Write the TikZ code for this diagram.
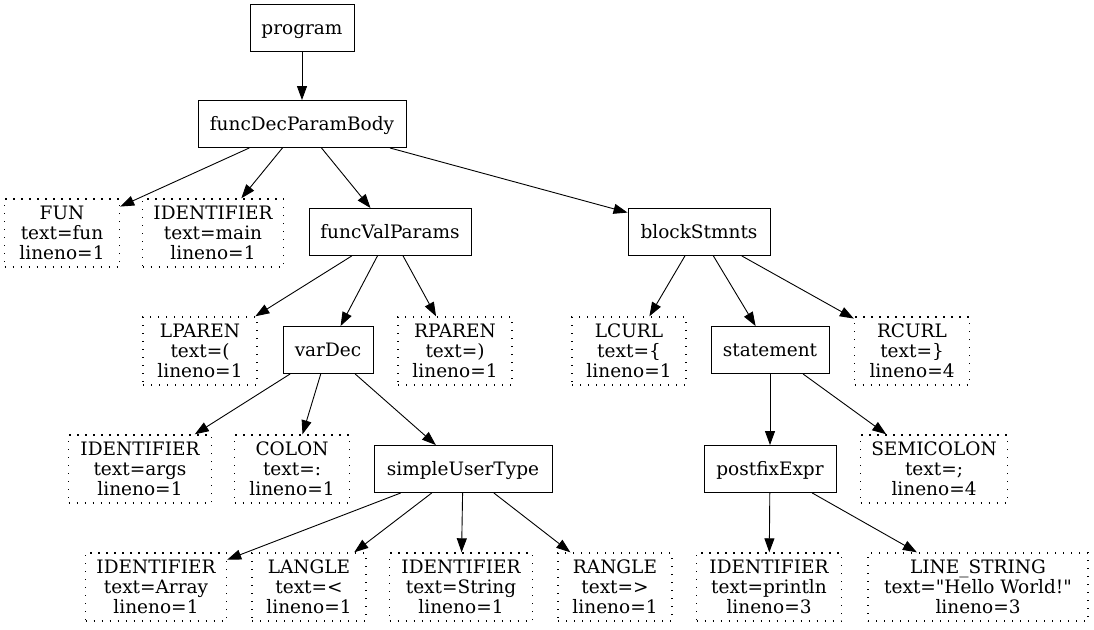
\documentclass[tikz,border=0pt]{standalone}
\usepackage{fontspec}
\setmainfont{DejaVu Serif}
\usepackage{tikz}
\usetikzlibrary{arrows.meta}

\begin{document}
\begin{tikzpicture}[x=1pt,y=-1pt,
  font=\fontsize{18.5}{20}\selectfont,
  rule/.style={draw,line width=0.9pt,inner xsep=3pt,text height=15pt,text depth=2pt,minimum width=#1,minimum height=47pt},
  tok/.style={draw,line width=1.4pt,dash pattern=on 1.3pt off 6.7pt,align=center,inner xsep=3pt,minimum width=#1,minimum height=68pt},
  edge/.style={line width=0.9pt,-{Triangle[length=14pt,width=10pt]}}]
\useasboundingbox (0,0) rectangle (1094,629);
% rule nodes
\node[rule=104pt] (program) at (302,28) {program};
\node[rule=208pt] (body) at (302,124) {funcDecParamBody};
\node[rule=162pt] (params) at (390,232) {funcValParams};
\node[rule=142pt] (block) at (699,232) {blockStmnts};
\node[rule=90pt] (vardec) at (328,350) {varDec};
\node[rule=118pt] (stmt) at (770,350) {statement};
\node[rule=178pt] (usertype) at (463,469) {simpleUserType};
\node[rule=132pt] (postfix) at (770,469) {postfixExpr};
% token nodes
\node[tok=115pt] (fun) at (62,233) {FUN\\text=fun\\lineno=1};
\node[tok=141pt] (idmain) at (213,233) {IDENTIFIER\\text=main\\lineno=1};
\node[tok=114pt] (lparen) at (200,351) {LPAREN\\text=(\\lineno=1};
\node[tok=114pt] (rparen) at (455,351) {RPAREN\\text=)\\lineno=1};
\node[tok=114pt] (lcurl) at (629,351) {LCURL\\text=\{\\lineno=1};
\node[tok=115pt] (rcurl) at (912,351) {RCURL\\text=\}\\lineno=4};
\node[tok=143pt] (idargs) at (140,469) {IDENTIFIER\\text=args\\lineno=1};
\node[tok=115pt] (colon) at (292,469) {COLON\\text=:\\lineno=1};
\node[tok=147pt] (semi) at (934,469) {SEMICOLON\\text=;\\lineno=4};
\node[tok=141pt] (idarray) at (156,587) {IDENTIFIER\\text=Array\\lineno=1};
\node[tok=114pt] (langle) at (309,587) {LANGLE\\text=<\\lineno=1};
\node[tok=143pt] (idstring) at (461,587) {IDENTIFIER\\text=String\\lineno=1};
\node[tok=114pt] (rangle) at (615,587) {RANGLE\\text=>\\lineno=1};
\node[tok=145pt] (idprint) at (769,587) {IDENTIFIER\\text=println\\lineno=3};
\node[tok=220pt] (linestr) at (978,587) {LINE\_STRING\\text=\textquotedbl Hello World!\textquotedbl\\lineno=3};
% edges
\foreach \a/\b in {program/body,body/fun,body/idmain,body/params,body/block,
  params/lparen,params/vardec,params/rparen,block/lcurl,block/stmt,block/rcurl,
  vardec/idargs,vardec/colon,vardec/usertype,stmt/postfix,stmt/semi,
  usertype/idarray,usertype/langle,usertype/idstring,usertype/rangle,
  postfix/idprint,postfix/linestr}
  \draw[edge] (\a) -- (\b);
\end{tikzpicture}
\end{document}
